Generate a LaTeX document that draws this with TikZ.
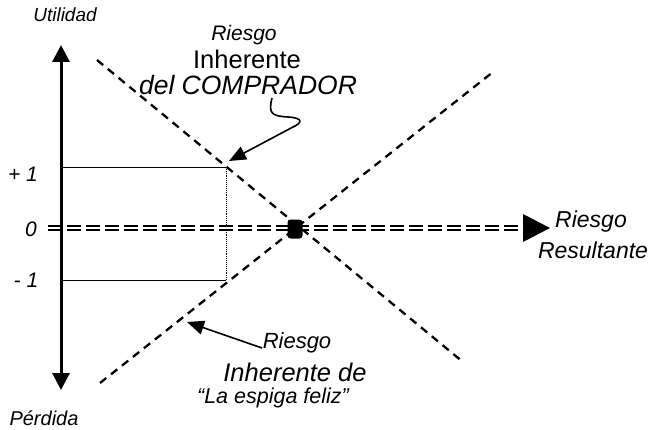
\documentclass[tikz,border=0pt]{standalone}
\usepackage{fontspec}
\setmainfont{Liberation Sans}
\usetikzlibrary{arrows.meta}
\tikzset{
  lbl/.style={inner sep=0pt, font=\itshape},
  axisline/.style={line width=3pt},
  riskline/.style={line width=2.3pt, dash pattern=on 8pt off 6pt},
  guide/.style={line width=0.9pt},
  guidev/.style={line width=0.9pt, densely dotted},
  zeroline/.style={line width=1.6pt, double=white, double distance=2pt, dash pattern=on 14pt off 5pt},
  pointer/.style={line width=1.6pt, -{Triangle[length=17pt,width=14pt]}},
}
\newcommand{\fs}[1]{\fontsize{#1}{#1}\selectfont}
\begin{document}
\begin{tikzpicture}[x=1pt,y=-1pt]
\useasboundingbox (0,0) rectangle (652,430);
% coordinates
\coordinate (axtop) at (61,45);
\coordinate (axbot) at (61,390);
\coordinate (a1) at (61,167);
\coordinate (p1) at (226,167);
\coordinate (m1) at (226,280);
\coordinate (am1) at (61,280);
\coordinate (d1s) at (97,60);
\coordinate (d1e) at (463,362);
\coordinate (d2s) at (100,383);
\coordinate (d2e) at (493,72);
\coordinate (z0) at (48,228);
\coordinate (zarr) at (523,228);
\coordinate (ztip) at (550,228);
\coordinate (cs) at (272,98);
\coordinate (ct) at (229,161);
\coordinate (bs) at (262,348);
\coordinate (bt) at (187,322);
% guides
\draw[guide] (a1) -- (p1);
\draw[guide] (am1) -- (m1);
\draw[guidev] (p1) -- (m1);
% risk lines
\draw[riskline] (d1s) -- (d1e);
\draw[riskline] (d2s) -- (d2e);
% zero line
\draw[zeroline] (z0) -- (zarr);
\fill (523,214) -- (ztip) -- (523,242) -- cycle;
% center point
\node[fill=black, minimum width=15pt, minimum height=19pt, inner sep=0pt, rounded corners=3pt] (c) at (295,229) {};
% axis
\draw[axisline, {Triangle[length=17pt,width=17pt]}-{Triangle[length=17pt,width=17pt]}] (axbot) -- (axtop);
% pointers
\draw[pointer] (cs) .. controls (268,114) and (272,116) .. (288,117) .. controls (304,118) and (302,123) .. (293,127) -- (ct);
\draw[pointer] (bs) -- (bt);
% labels
\node[lbl] (util) at (65,15) {\fs{19}Utilidad};
\node[lbl] (perd) at (44,418) {\fs{20}Pérdida};
\node[lbl] (plus) at (23,174) {\fs{21}+ 1};
\node[lbl] (zero) at (31,229) {\fs{21}0};
\node[lbl] (minus) at (26,280) {\fs{21}- 1};
\node[lbl] (t1) at (244,35) {\fs{21}Riesgo};
\node[inner sep=0pt] (t2) at (247,59) {\fs{25.5}Inherente};
\node[lbl] (t3) at (248,85) {\fs{26.5}del COMPRADOR};
\node[lbl] (b1) at (297,343) {\fs{22}Riesgo};
\node[lbl] (b2) at (295,372) {\fs{25.5}Inherente de};
\node[lbl] (b3) at (273,398) {\fs{21.5}“La espiga feliz”};
\node[lbl] (r1) at (591,222) {\fs{23}Riesgo};
\node[lbl] (r2) at (593,250) {\fs{23}Resultante};
\end{tikzpicture}
\end{document}
